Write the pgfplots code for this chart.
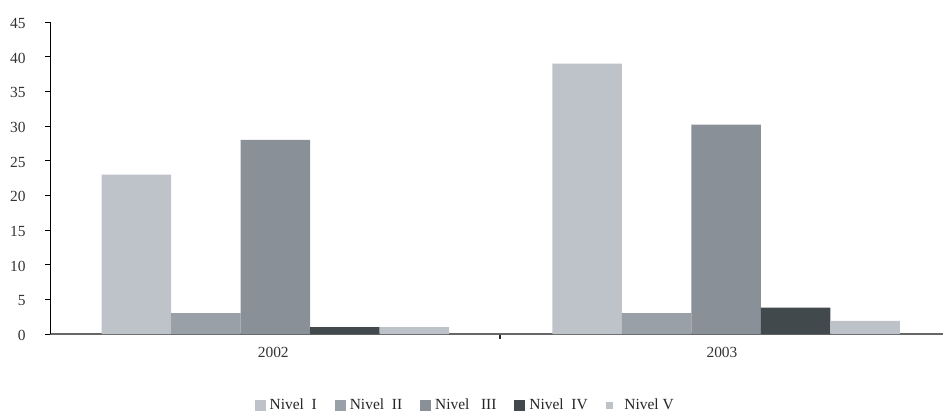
\documentclass[border=0pt]{standalone}
\usepackage{fontspec}
\setmainfont{Liberation Serif}
\usepackage{pgfplots}
\pgfplotsset{compat=1.18}
\definecolor{cI}{HTML}{BEC2C9}
\definecolor{cII}{HTML}{9AA0A8}
\definecolor{cIII}{HTML}{8A9097}
\definecolor{cIV}{HTML}{42494D}
\definecolor{cV}{HTML}{BDC1C8}
\begin{document}
\fontsize{15.5}{17}\selectfont
\begin{tikzpicture}[x=1bp,y=1bp]
\path[use as bounding box] (-50bp,-78bp) rectangle (893bp,334bp);
\begin{axis}[
  at={(0,0)}, anchor=south west,
  scale only axis, width=893bp, height=312bp,
  ybar=0pt, bar width=69.5bp,
  xmin=-0.5, xmax=1.5, ymin=0, ymax=45,
  xtick={0.508}, xticklabels={},
  x tick style={draw=black!85, line width=2.5bp},
  extra x ticks={0,1.005}, extra x tick labels={2002,2003},
  extra x tick style={major tick length=0pt, tick style={draw=none}},
  ytick={0,5,...,45},
  axis x line*=bottom, axis y line*=left,
  x axis line style={draw=black!60, line width=1.6bp},
  y axis line style={draw=black, line width=0.9bp},
  y tick style={draw=black, line width=0.9bp},
  tick align=outside, major tick length=5bp,
  ticklabel style={font=\fontsize{15.5}{17}\selectfont, text=black!80},
  /pgf/number format/assume math mode=true,
  xticklabel style={yshift=-8bp},
  yticklabel style={xshift=-14bp, yshift=-1.5bp},
  legend style={at={(0.465,-0.2276)}, anchor=center, draw=none, legend columns=-1,
    font=\fontsize{15.5}{17}\selectfont, text=black!85,
    /tikz/every odd column/.append style={column sep=2bp},
    /tikz/every even column/.append style={column sep=16bp}},
  legend image code/.code={\fill[#1] (0bp,-5.5bp) rectangle (11bp,5.5bp);},
]
\addplot[fill=cI, draw=none] coordinates {(0.005,23) (1.014,39)};
\addplot[fill=cII, draw=none] coordinates {(0.005,3.0) (1.014,3.0)};
\addplot[fill=cIII, draw=none] coordinates {(0.005,28) (1.014,30.2)};
\addplot[fill=cIV, draw=none] coordinates {(0.005,1.0) (1.014,3.8)};
\addplot[fill=cV, draw=none, legend image code/.code={\fill[cV] (3bp,-3.5bp) rectangle (10bp,3.5bp);}] coordinates {(0.005,1.0) (1.014,1.9)};
\legend{Nivel\ \ I, Nivel\ \ II, Nivel\ \ \ III, Nivel\ \ IV, \ \ Nivel V}
\end{axis}
\end{tikzpicture}
\end{document}
